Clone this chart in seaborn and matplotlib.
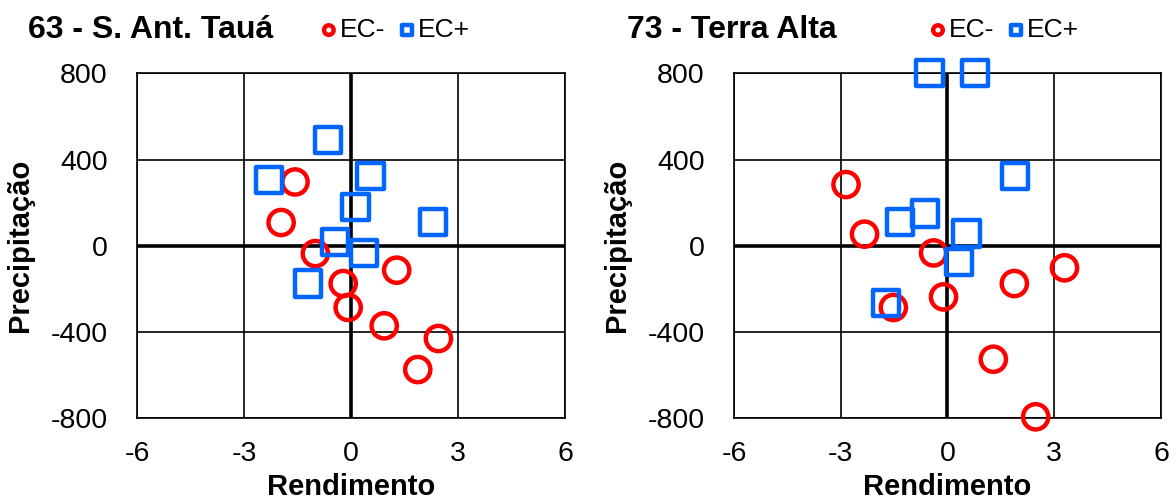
import pandas as pd
import seaborn as sns
import matplotlib
import matplotlib.pyplot as plt

sns.set_style('white')
matplotlib.rcParams['font.family'] = ['Liberation Sans', 'DejaVu Sans']
matplotlib.rcParams['axes.unicode_minus'] = False
for key in ['text.color', 'axes.labelcolor', 'xtick.color', 'ytick.color']:
    matplotlib.rcParams[key] = 'black'

# 63 - S. Ant. Taua
taua_neg_x = [-1.57, -1.96, -1.0, 1.28, -0.22, -0.08, 0.93, 2.45, 1.87]
taua_neg_y = [296, 108, -36, -113, -175, -286, -371, -430, -574]
taua_pos_x = [-0.65, -2.3, 0.55, 0.13, 2.3, -0.45, 0.37, -1.2]
taua_pos_y = [490, 305, 325, 180, 110, 18, -33, -175]

# 73 - Terra Alta
terra_neg_x = [-2.85, -2.33, -0.39, 3.29, 1.88, -0.11, -1.52, 1.29, 2.48]
terra_neg_y = [284, 54, -33, -102, -175, -237, -286, -526, -793]
terra_pos_x = [-0.5, 0.78, 1.9, -0.63, -1.33, 0.54, 0.33, -1.73]
terra_pos_y = [800, 800, 323, 150, 111, 57, -75, -265]

titles = ["63 - S. Ant. Tauá", "73 - Terra Alta"]
xticks = [-6, -3, 0, 3, 6]
yticks = [-800, -400, 0, 400, 800]
red = '#ff0000'
blue = '#0066ff'

panels = [
    (taua_neg_x, taua_neg_y, taua_pos_x, taua_pos_y),
    (terra_neg_x, terra_neg_y, terra_pos_x, terra_pos_y),
]

fig = plt.figure(figsize=(11.76, 5), dpi=100)
positions = [[0.1165, 0.1634, 0.364, 0.69], [0.6241, 0.1634, 0.3631, 0.69]]
title_x = [28 / 1176, 627 / 1176]
legend_x = [0.274, 0.792]

for i, (nx, ny, px, py) in enumerate(panels):
    ax = fig.add_axes(positions[i])
    df_neg = pd.DataFrame({'x': nx, 'y': ny})
    df_pos = pd.DataFrame({'x': px, 'y': py})

    for v in xticks:
        ax.axvline(v, color='black', lw=1.2, zorder=1)
    for v in yticks:
        ax.axhline(v, color='black', lw=1.2, zorder=1)
    ax.axvline(0, color='black', lw=2.6, zorder=2)
    ax.axhline(0, color='black', lw=2.6, zorder=2)

    sns.scatterplot(data=df_neg, x='x', y='y', ax=ax, marker='o', s=330,
                    facecolors='none', edgecolors=red, linewidths=3.2,
                    clip_on=False, zorder=3, label='EC-')
    sns.scatterplot(data=df_pos, x='x', y='y', ax=ax, marker='s', s=360,
                    facecolors='none', edgecolors=blue, linewidths=3.2,
                    clip_on=False, zorder=3, label='EC+')

    ax.set_xlim(-6, 6)
    ax.set_ylim(-800, 800)
    ax.set_xticks(xticks)
    ax.set_yticks(yticks)
    ax.tick_params(axis='both', length=0, labelsize=20.5)
    ax.tick_params(axis='x', pad=16)
    ax.tick_params(axis='y', pad=21)
    for sp in ax.spines.values():
        sp.set_color('black')
        sp.set_linewidth(1.2)

    ax.set_xlabel('Rendimento', fontsize=21, fontweight='bold', labelpad=5)
    ax.set_ylabel('Precipitação', fontsize=21, fontweight='bold')
    ax.yaxis.set_label_coords(-0.24, 0.5)

    fig.text(title_x[i], 0.94, titles[i], fontsize=23, fontweight='bold',
             ha='left', va='center')
    ax.legend(loc='center left', bbox_to_anchor=(legend_x[i], 0.94),
              bbox_transform=fig.transFigure, ncol=2, frameon=False,
              fontsize=19, markerscale=0.38, handlelength=0.5,
              handletextpad=0.15, columnspacing=0.6, borderpad=0,
              borderaxespad=0)

fig.savefig('out.png', dpi=100)
